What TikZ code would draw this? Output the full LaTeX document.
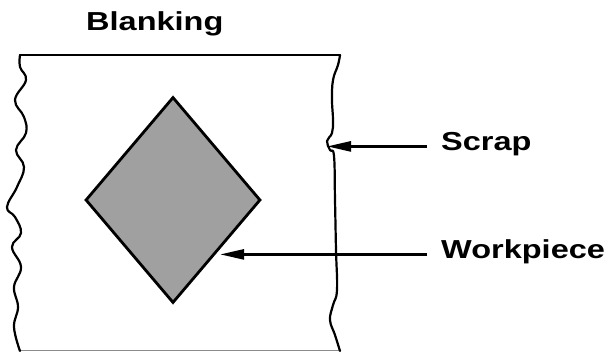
\documentclass[tikz,border=0pt]{standalone}
\usepackage{fontspec}
\setmainfont{Liberation Sans}
\usetikzlibrary{shapes.geometric,arrows.meta,calc}
\definecolor{blankgray}{RGB}{160,160,160}
\tikzset{
  edge/.style={line width=2.2pt, line join=round, line cap=round},
  blank/.style={diamond, draw, line width=2.8pt, fill=blankgray,
    minimum width=175pt, minimum height=206pt, inner sep=0pt},
  label/.style={inner sep=0pt, text height=0.72em, text depth=0pt,
    font=\fontsize{26}{30}\selectfont\bfseries},
  pointer/.style={line width=2.6pt, shorten <=14pt,
    -{Triangle[length=24pt,width=10pt]}},
}
\newcommand{\wide}[1]{\scalebox{1.25}[1]{#1}}
\begin{document}
\begin{tikzpicture}[x=1pt,y=-1pt]
  \useasboundingbox (0,0) rectangle (615,351);

  % title
  \node[label, anchor=base west] (title) at (86,30) {\wide{Blanking}};

  % strip of sheet metal: straight top and bottom, torn sides
  \draw[edge] (20,55) -- (340,55);
  \draw[line width=1.2pt, black!45] (20,350.5) -- (340,350.5);
  \draw[edge] plot[smooth, tension=0.7] coordinates {
    (20,55) (20,67) (26,80) (15,100) (24,117) (26,133) (16,150)
    (24,167) (17,187) (7,207) (15,217) (21,233) (12,247) (21,267)
    (14,287) (18,307) (14,327) (20,351)};
  \draw[edge] plot[smooth, tension=0.7] coordinates {
    (340,55) (338,65) (333,80) (332,100) (333,120) (332,133)
    (327,141) (330,150) (334,156) (335,200) (336,250) (337,290)
    (333,305) (330,320) (335,335) (340,351)};
  \coordinate (scrapTip) at (327,141);

  % blank cut out of the strip
  \node[blank] (work) at (173,200) {};
  \coordinate (workTip) at ($(work.east)!0.47!(work.south)$);

  % labels and leaders
  \node[label, anchor=base west] (scrap) at (441,150) {\wide{Scrap}};
  \node[label, anchor=base west] (piece) at (441,258) {\wide{Workpiece}};
  \draw[pointer] (scrap.west) -- (scrap.west -| scrapTip);
  \draw[pointer] (piece.west) -- (piece.west -| workTip);
\end{tikzpicture}
\end{document}
